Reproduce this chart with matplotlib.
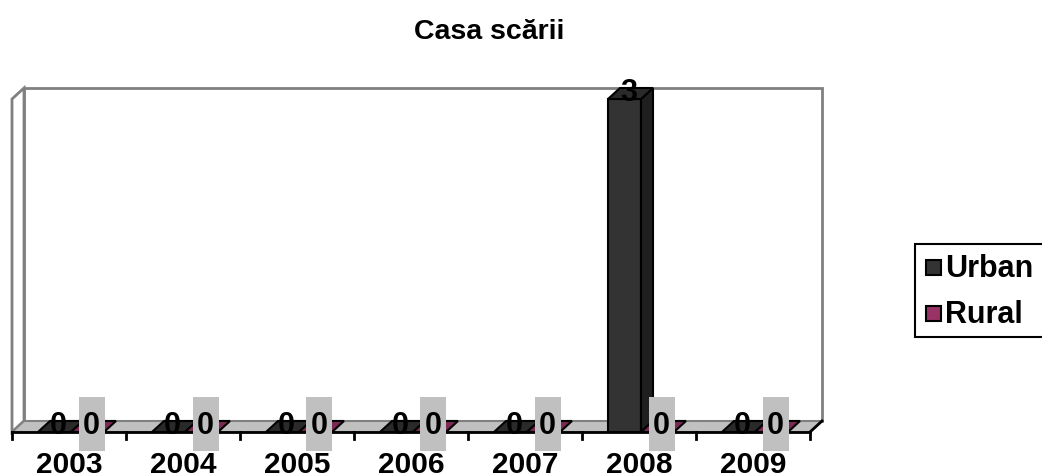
import matplotlib
matplotlib.use("Agg")
import matplotlib.pyplot as plt
from matplotlib.patches import Polygon, Rectangle

plt.rcParams['font.family'] = ['Liberation Sans', 'DejaVu Sans']

title = "Casa scării"
years = ["2003", "2004", "2005", "2006", "2007", "2008", "2009"]
series_names = ["Urban", "Rural"]
urban = [0, 0, 0, 0, 0, 3, 0]
rural = [0, 0, 0, 0, 0, 0, 0]
values = [urban, rural]

face_colors = ["#333333", "#993366"]
side_colors = ["#1f1f1f", "#662244"]
top_colors = ["#2a2a2a", "#7a2a52"]

W, H = 1042, 477
fig = plt.figure(figsize=(W / 100, H / 100), dpi=100)
fig.patch.set_facecolor("white")

# front plane of the 3D plot in pixels
px0, px1 = 12, 810
py_base, py_top = 433, 100
ax = fig.add_axes([px0 / W, (H - py_base) / H, (px1 - px0) / W, (py_base - py_top) / H])
n = len(years)
ymax = 3
ax.set_xlim(0, n)
ax.set_ylim(0, ymax)
ax.axis("off")

sx = n / (px1 - px0)          # data units per pixel (x)
sy = ymax / (py_base - py_top)  # data units per pixel (y)
dx, dy = 12 * sx, 11 * sy

wall_edge = "#808080"
# back wall
ax.add_patch(Polygon([(dx, dy), (n + dx, dy), (n + dx, ymax + dy), (dx, ymax + dy)],
                     closed=True, facecolor="white", edgecolor=wall_edge, lw=2, clip_on=False, zorder=1))
# left wall
ax.add_patch(Polygon([(0, 0), (dx, dy), (dx, ymax + dy), (0, ymax)],
                     closed=True, facecolor="white", edgecolor=wall_edge, lw=2, clip_on=False, zorder=1))
# floor
ax.add_patch(Polygon([(0, 0), (n, 0), (n + dx, dy), (dx, dy)],
                     closed=True, facecolor="#C0C0C0", edgecolor=wall_edge, lw=1.5, clip_on=False, zorder=2))
# front baseline (black) + right slanted edge
ax.plot([0, n], [0, 0], color="black", lw=2, clip_on=False, zorder=6)
ax.plot([n, n + dx], [0, dy], color="black", lw=2, clip_on=False, zorder=6)
for i in range(n + 1):
    ax.plot([i, i], [0, -7 * sy], color="black", lw=2, clip_on=False, zorder=6)

# bars
bw = 33 * sx
off = 26 * sx
for i in range(n):
    for j, vals in enumerate(values):
        h = vals[i]
        x0 = i + off + j * bw
        if h > 0:
            ax.add_patch(Polygon([(x0, 0), (x0 + bw, 0), (x0 + bw, h), (x0, h)], closed=True,
                                 facecolor=face_colors[j], edgecolor="black", lw=1.5, clip_on=False, zorder=3 + j))
            ax.add_patch(Polygon([(x0 + bw, 0), (x0 + bw + dx, dy), (x0 + bw + dx, h + dy), (x0 + bw, h)],
                                 closed=True, facecolor=side_colors[j], edgecolor="black", lw=1.5,
                                 clip_on=False, zorder=3 + j))
        ax.add_patch(Polygon([(x0, h), (x0 + bw, h), (x0 + bw + dx, h + dy), (x0 + dx, h + dy)],
                             closed=True, facecolor=top_colors[j], edgecolor="black", lw=1.5,
                             clip_on=False, zorder=3 + j))
        # data label
        lx = x0 + bw / 2 + 4 * sx
        ly = h - 1 * sy
        if j == 1:
            ax.add_patch(Rectangle((lx - 13 * sx, ly - 18 * sy), 26 * sx, 54 * sy,
                                   facecolor="#C0C0C0", edgecolor="none", clip_on=False, zorder=7))
        ax.text(lx, ly, str(h), ha="center", va="baseline", fontsize=22, fontweight="bold",
                color="black", zorder=8, clip_on=False)

# category labels
for i, y in enumerate(years):
    ax.text(i + 0.5, -40 * sy, y, ha="center", va="baseline", fontsize=21.5, fontweight="bold", zorder=8)

# overlay for title and legend in pixel coords
ov = fig.add_axes([0, 0, 1, 1], zorder=10)
ov.set_xlim(0, W)
ov.set_ylim(H, 0)
ov.axis("off")
ov.patch.set_alpha(0)
ov.text(489, 39, title, ha="center", va="baseline", fontsize=20.5, fontweight="bold")

ov.add_patch(Rectangle((915, 245), 140, 93, facecolor="white", edgecolor="black", lw=1.5, clip_on=False))
for k, name in enumerate(series_names):
    base = 277 + k * 46
    ov.add_patch(Rectangle((926, base - 16), 15, 15, facecolor=face_colors[k], edgecolor="black", lw=1.5))
    ov.text(945, base, name, ha="left", va="baseline", fontsize=22, fontweight="bold")

fig.savefig("out.png", dpi=100)
